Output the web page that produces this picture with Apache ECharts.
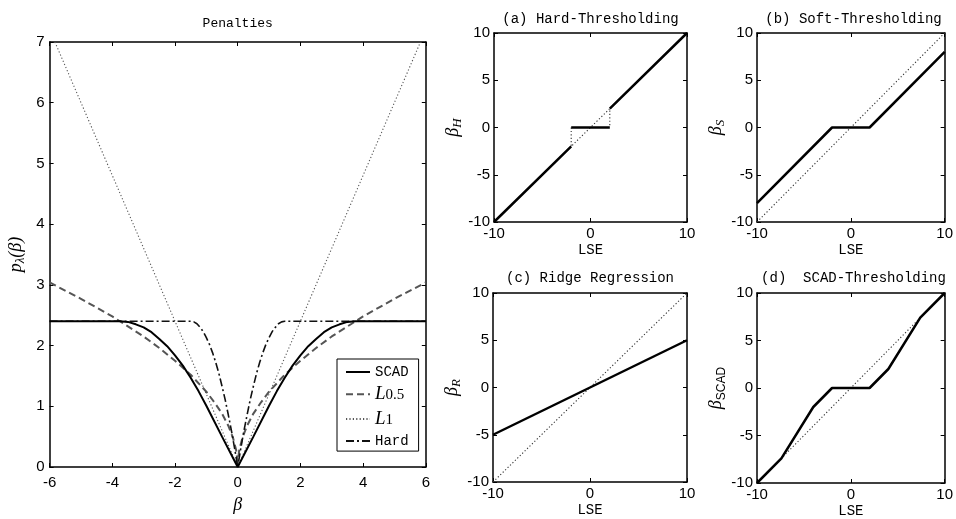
<!DOCTYPE html>
<html><head><meta charset="utf-8">
<script src="https://cdn.jsdelivr.net/npm/echarts@6/dist/echarts.min.js"></script>
<style>html,body{margin:0;padding:0;background:#fff}#c{width:956px;height:519px}</style>
</head><body><div id="c"></div>
<script>
// ---------------- data ----------------
// Left panel: penalty functions p_lambda(beta)
const scadBeta = [-6,-3.75,-3.5,-3.25,-3,-2.75,-2.5,-2.25,-2,-1.75,-1.5,-1.25,-1,-0.5,0,0.5,1,1.25,1.5,1.75,2,2.25,2.5,2.75,3,3.25,3.5,3.75,6];
const scadPen  = [2.4,2.4,2.39,2.35,2.3,2.22,2.11,1.99,1.84,1.67,1.47,1.25,1.01,0.5,0,0.5,1.01,1.25,1.47,1.67,1.84,1.99,2.11,2.22,2.3,2.35,2.39,2.4,2.4];
const lhalfBeta = [-6,-5,-4,-3,-2.5,-2,-1.5,-1,-0.75,-0.5,-0.3,-0.15,-0.05,-0.01,0,0.01,0.05,0.15,0.3,0.5,0.75,1,1.5,2,2.5,3,4,5,6];
const lhalfPen  = [3.04,2.77,2.48,2.15,1.96,1.75,1.52,1.24,1.07,0.88,0.68,0.48,0.28,0.12,0,0.12,0.28,0.48,0.68,0.88,1.07,1.24,1.52,1.75,1.96,2.15,2.48,2.77,3.04];
const l1Beta = [-5.83,0,5.83];
const l1Pen  = [7,0,7];
const hardBeta = [-6,-1.5,-1.4,-1.3,-1.2,-1.1,-1,-0.9,-0.8,-0.7,-0.6,-0.5,-0.4,-0.3,-0.2,-0.1,0,0.1,0.2,0.3,0.4,0.5,0.6,0.7,0.8,0.9,1,1.1,1.2,1.3,1.4,1.5,6];
const hardPen  = [2.4,2.4,2.39,2.36,2.3,2.23,2.13,2.02,1.88,1.72,1.54,1.33,1.11,0.86,0.6,0.31,0,0.31,0.6,0.86,1.11,1.33,1.54,1.72,1.88,2.02,2.13,2.23,2.3,2.36,2.39,2.4,2.4];
const penaltyXTicks = [-6,-4,-2,0,2,4,6];
const penaltyYTicks = [0,1,2,3,4,5,6,7];

// Right panels: thresholding rules (LSE -> estimate)
const identityLSE = [-10,10];
const identityEst = [-10,10];
const hardGapLSE = [-2,-2,2,2];
const hardGapEst = [0,-2,2,0];
const hardLSE = [-10,-2,null,-2,2,null,2,10];
const hardEst = [-10,-2,null,0,0,null,2,10];
const softLSE = [-10,-2,2,10];
const softEst = [-8,0,0,8];
const ridgeLSE = [-10,10];
const ridgeEst = [-5,5];
const scadLSE = [-10,-7.4,-4,-2,2,4,7.4,10];
const scadEst = [-10,-7.4,-2,0,0,2,7.4,10];
const lseTicks = [-10,0,10];
const estTicks = [-10,-5,0,5,10];

// ---------------- helpers ----------------
function pairs(xs, ys){ return xs.map((x,i)=> (x===null||ys[i]===null) ? ['-','-'] : [x, ys[i]]); }
const MONO = '"Liberation Mono","DejaVu Sans Mono",monospace';
const SANS = '"Liberation Sans","DejaVu Sans",sans-serif';
const SERIF = '"Liberation Serif","DejaVu Serif",serif';

const grids = [
  {left:49.6, top:42, width:376.2, height:434.7},
  {left:494, top:33, width:193, height:189},
  {left:757, top:33, width:193, height:189},
  {left:493, top:293, width:194, height:189},
  {left:757, top:293, width:193, height:190}
];

const xAxes = [], yAxes = [];
function addAxes(gi, xr, xint, yr, yint, fontSize, labMargin, xName, yName, xGap, yGap, rich){
  const common = {
    gridIndex: gi, type:'value', splitLine:{show:false},
    axisLine:{show:true, onZero:false, lineStyle:{color:'#000', width:1.5}},
    axisTick:{show:true, inside:true, length:4, lineStyle:{color:'#000', width:1}},
  };
  xAxes.push(Object.assign({}, common, {position:'bottom', min:xr[0], max:xr[1], interval:xint,
    axisLabel:{color:'#000', fontFamily:SANS, fontSize:fontSize, margin:labMargin.x},
    name:xName, nameLocation:'middle', nameGap:xGap,
    nameTextStyle:{color:'#000', rich:rich}}));
  xAxes.push(Object.assign({}, common, {position:'top', min:xr[0], max:xr[1], interval:xint, axisLabel:{show:false}}));
  yAxes.push(Object.assign({}, common, {position:'left', min:yr[0], max:yr[1], interval:yint,
    axisLabel:{color:'#000', fontFamily:SANS, fontSize:fontSize, margin:labMargin.y},
    name:yName, nameLocation:'middle', nameGap:yGap,
    nameTextStyle:{color:'#000', rich:rich}}));
  yAxes.push(Object.assign({}, common, {position:'right', min:yr[0], max:yr[1], interval:yint, axisLabel:{show:false}}));
}

const nameRich = {
  i:{fontFamily:SERIF, fontStyle:'italic', fontSize:18, lineHeight:22, color:'#000'},
  s:{fontFamily:SERIF, fontStyle:'italic', fontSize:13, lineHeight:12, verticalAlign:'bottom', color:'#000'},
  u:{fontFamily:SANS, fontSize:12, lineHeight:12, verticalAlign:'bottom', color:'#000'},
  m:{fontFamily:MONO, fontSize:14, lineHeight:20, color:'#000'}
};

addAxes(0, [-6,6], 2, [0,7], 1, 15, {x:8,y:5}, '{i|β}', '{i|p}{s|λ}{i|(β)}', 27, 22.5, nameRich);
addAxes(1, [-10,10], 10, [-10,10], 5, 15, {x:4,y:4}, '{m|LSE}', '{i|β}{s|H}', 18, 21, nameRich);
addAxes(2, [-10,10], 10, [-10,10], 5, 15, {x:4,y:4}, '{m|LSE}', '{i|β}{s|S}', 18, 21, nameRich);
addAxes(3, [-10,10], 10, [-10,10], 5, 15, {x:4,y:4}, '{m|LSE}', '{i|β}{s|R}', 18, 21, nameRich);
addAxes(4, [-10,10], 10, [-10,10], 5, 15, {x:4,y:4}, '{m|LSE}', '{i|β}{u|SCAD}', 18, 21, nameRich);

function line(name, gi, xs, ys, color, width, type, z){
  return {name:name, type:'line', xAxisIndex:gi*2, yAxisIndex:gi*2, data:pairs(xs,ys),
    showSymbol:false, symbol:'none', connectNulls:false, animation:false, z:z||2,
    itemStyle:{color:color},
    lineStyle:{color:color, width:width, type:type}};
}

const DOT = [1.2,2.2];
const series = [
  line('L1', 0, l1Beta, l1Pen, '#555', 1.1, DOT, 2),
  line('L0.5', 0, lhalfBeta, lhalfPen, '#555', 2, [7,4], 3),
  line('Hard', 0, hardBeta, hardPen, '#111', 1.6, [8,3,2,3], 4),
  line('SCAD', 0, scadBeta, scadPen, '#000', 2, 'solid', 5),
  line('a-dot', 1, hardGapLSE, hardGapEst, '#333', 1.1, DOT),
  line('a', 1, hardLSE, hardEst, '#000', 2.5, 'solid', 5),
  line('b-dot', 2, identityLSE, identityEst, '#333', 1.1, DOT),
  line('b', 2, softLSE, softEst, '#000', 2.5, 'solid', 5),
  line('c-dot', 3, identityLSE, identityEst, '#333', 1.1, DOT),
  line('c', 3, ridgeLSE, ridgeEst, '#000', 2.5, 'solid', 5),
  line('d-dot', 4, identityLSE, identityEst, '#333', 1.1, DOT),
  line('d', 4, scadLSE, scadEst, '#000', 2.5, 'solid', 5)
];

function ttl(text, x, y, fs){ return {type:'text', x:x, y:y, silent:true,
  style:{text:text, fill:'#000', font:fs + 'px ' + MONO, textAlign:'center', textVerticalAlign:'middle'}}; }

const option = {
  backgroundColor:'#fff',
  animation:false,
  grid: grids.map(g=>Object.assign({containLabel:false}, g)),
  xAxis: xAxes,
  yAxis: yAxes,
  legend: {
    data:['SCAD','L0.5','L1','Hard'],
    orient:'vertical', left:337, top:359,
    backgroundColor:'#fff', borderColor:'#000', borderWidth:1, borderRadius:0,
    padding:[6,10,3,8], itemGap:5.7, itemWidth:24, itemHeight:10,
    selectedMode:false,
    itemStyle:{opacity:0, color:'rgba(0,0,0,0)', borderWidth:0},
    formatter: function(n){
      if(n==='SCAD') return '{m|SCAD}';
      if(n==='Hard') return '{m|Hard}';
      if(n==='L0.5') return '{L|L}{sub|0.5}';
      return '{L|L}{sub|1}';
    },
    textStyle:{ rich:{
      m:{fontFamily:MONO, fontSize:14, lineHeight:17, color:'#000'},
      L:{fontFamily:SERIF, fontStyle:'italic', fontSize:19, lineHeight:17, color:'#000'},
      sub:{fontFamily:SERIF, fontSize:15, lineHeight:10, verticalAlign:'bottom', color:'#000'}
    }}
  },
  graphic: [
    ttl('Penalties', 237.7, 24, 13),
    ttl('(a) Hard-Thresholding', 590.5, 19, 14),
    ttl('(b) Soft-Thresholding', 853.5, 19, 14),
    ttl('(c) Ridge Regression', 590, 278, 14),
    ttl('(d)  SCAD-Thresholding', 853.5, 278, 14)
  ],
  series: series
};

const chart = echarts.init(document.getElementById('c'), null, {renderer:'canvas'});
chart.setOption(option);
</script>
</body></html>
